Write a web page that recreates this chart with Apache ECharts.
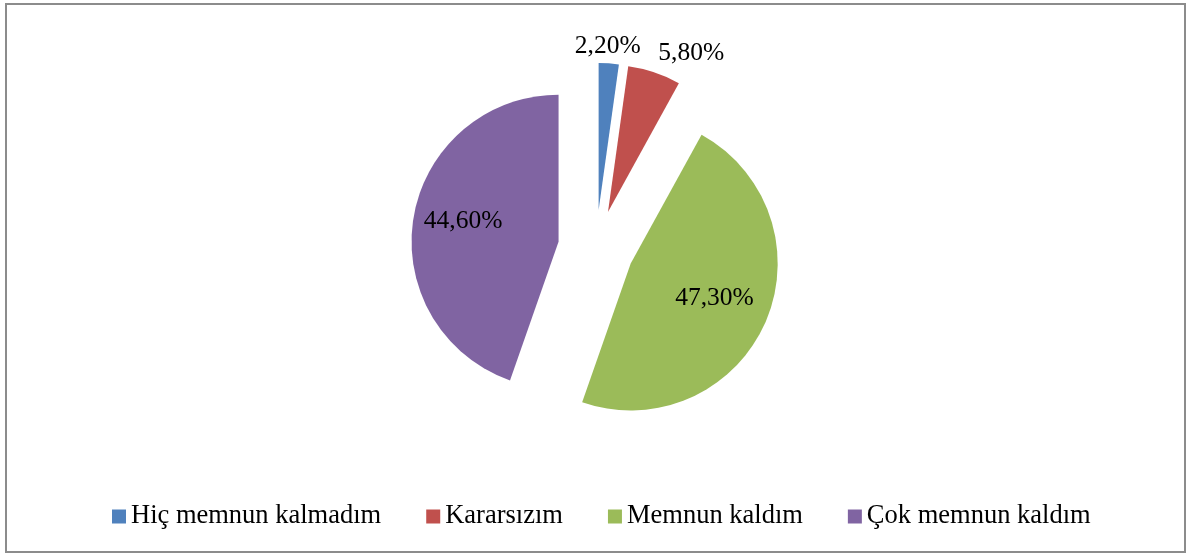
<!DOCTYPE html>
<html>
<head>
<meta charset="utf-8">
<script src="https://cdn.jsdelivr.net/npm/echarts@6/dist/echarts.min.js"></script>
<style>
  html, body { margin: 0; padding: 0; background: #fff; }
  #main { width: 1186px; height: 553px; }
</style>
</head>
<body>
<div id="main"></div>
<script>
// veri
var categories = ['Hiç memnun kalmadım', 'Kararsızım', 'Memnun kaldım', 'Çok memnun kaldım'];
var values = [2.2, 5.8, 47.3, 44.6];
var colors = ['#4F81BD', '#C0504D', '#9BBB59', '#8064A2'];

// etiket konumu: kucuk dilimler disarida, buyukler iceride
var labelPos = ['outside', 'outside', 'inside', 'inside'];
var labelShift = [[-39, -17], [-1, -19], [14, 4], [-20, -8]];

var fontFam = '"Liberation Serif", "Times New Roman", serif';

var pieData = [];
for (var i = 0; i < categories.length; i++) {
    pieData.push({
        name: categories[i],
        value: values[i],
        selected: true,
        itemStyle: { color: colors[i] },
        label: { position: labelPos[i] }
    });
}

var myChart = echarts.init(document.getElementById('main'));
myChart.setOption({
    backgroundColor: '#fff',
    animation: false,
    graphic: [{
        type: 'rect',
        shape: { x: 6, y: 4, width: 1179, height: 548 },
        style: { fill: 'none', stroke: '#8c8c8c', lineWidth: 2 },
        silent: true
    }],
    legend: {
        data: categories,
        left: 107,
        top: 498,
        icon: 'rect',
        itemWidth: 14,
        itemHeight: 14,
        itemGap: 45,
        selectedMode: false,
        textStyle: { fontFamily: fontFam, fontSize: 26.5, color: '#000' }
    },
    series: [{
        type: 'pie',
        center: [596, 248],
        radius: 147,
        startAngle: 90,
        clockwise: true,
        selectedMode: 'multiple',
        selectedOffset: 38,
        avoidLabelOverlap: false,
        emphasis: { disabled: true },
        label: {
            show: true,
            color: '#000',
            fontFamily: fontFam,
            fontSize: 25.5,
            formatter: function (p) {
                return p.value.toFixed(2).replace('.', ',') + '%';
            }
        },
        labelLine: { show: false, length: 0, length2: 0 },
        labelLayout: function (params) {
            var s = labelShift[params.dataIndex];
            return { dx: s[0], dy: s[1] };
        },
        data: pieData
    }]
});
</script>
</body>
</html>
